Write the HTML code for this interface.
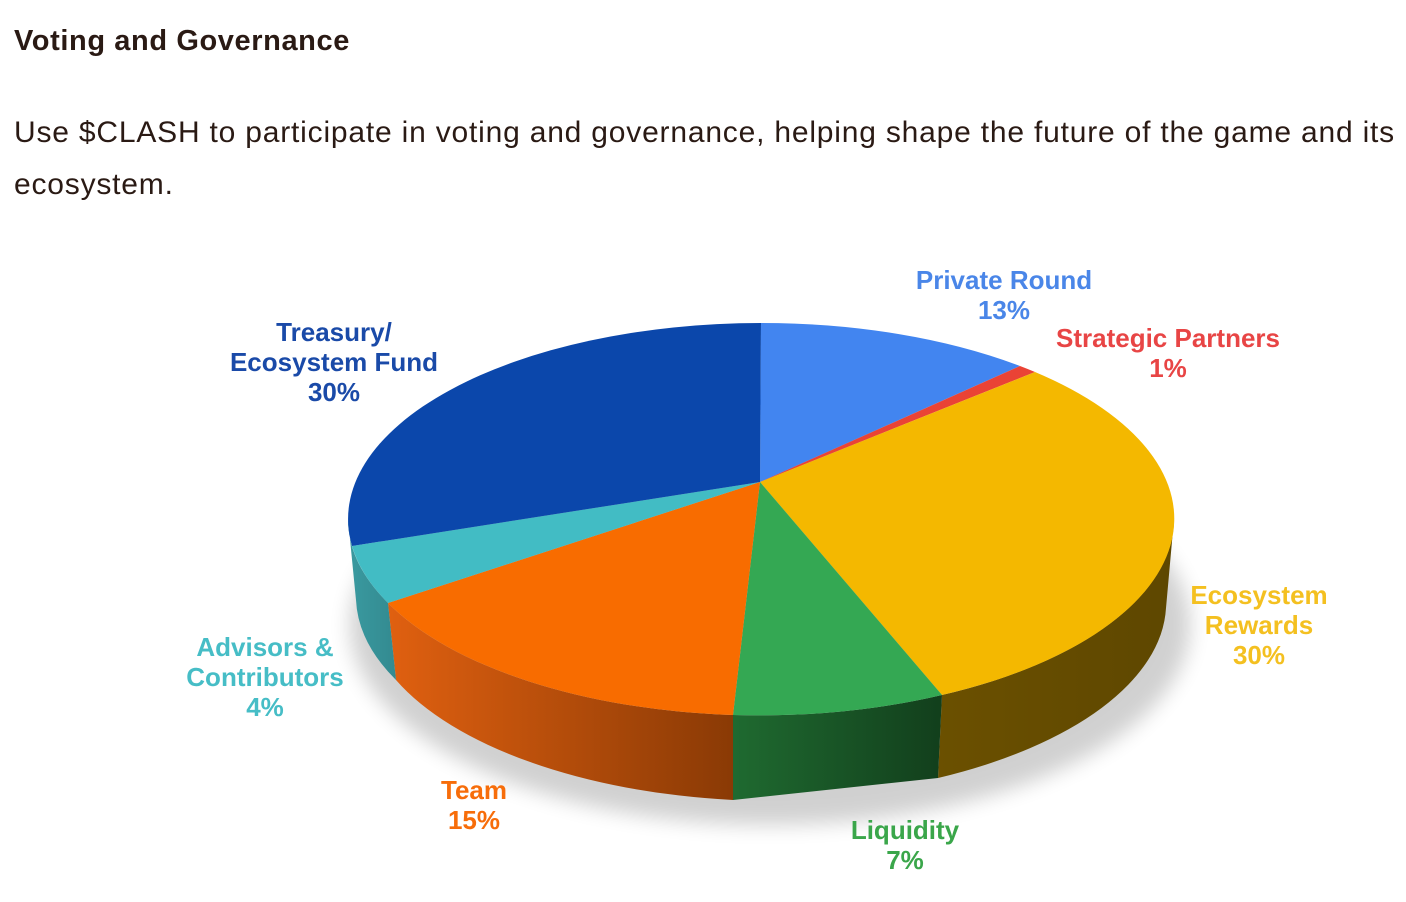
<!DOCTYPE html>
<html><head><meta charset="utf-8"><style>
body{margin:0;width:1406px;height:902px;background:#fff;overflow:hidden;font-family:"Liberation Sans",sans-serif;color:#2a1a14}
h1{position:absolute;left:14px;top:25px;margin:0;font-size:29px;font-weight:bold;letter-spacing:0.6px}
p{position:absolute;left:14px;top:107px;margin:0;font-size:30px;line-height:52px;width:1400px;letter-spacing:0.8px}
svg{position:absolute;left:0;top:0}
.l{font-family:"Liberation Sans",sans-serif;font-weight:bold;font-size:26px;text-anchor:middle}
</style></head><body>
<h1>Voting and Governance</h1>
<p>Use $CLASH to participate in voting and governance, helping shape the future of the game and its ecosystem.</p>
<svg width="1406" height="902">
<defs>
<linearGradient id="gy" x1="0" x2="1"><stop offset="0" stop-color="#6b5000"/><stop offset="1" stop-color="#5e4700"/></linearGradient>
<linearGradient id="gg" x1="0" x2="1"><stop offset="0" stop-color="#1f6a30"/><stop offset="1" stop-color="#123f1c"/></linearGradient>
<linearGradient id="go" x1="0" x2="1"><stop offset="0" stop-color="#e06010"/><stop offset="1" stop-color="#8a3a05"/></linearGradient>
<linearGradient id="gt" x1="0" x2="1"><stop offset="0" stop-color="#3a9aa0"/><stop offset="1" stop-color="#338a90"/></linearGradient>
<filter id="sh"><feGaussianBlur stdDeviation="10"/></filter>
</defs>
<ellipse cx="770" cy="625" rx="420" ry="200" fill="#000" opacity="0.18" filter="url(#sh)"/>
<path d="M1174,519 A413,196 0 0 1 942,695 L938,778 A413,196 0 0 0 1166,608 Z" fill="url(#gy)"/>
<path d="M942,695 A413,196 0 0 1 733,715 L733,800 L938,778 Z" fill="url(#gg)"/>
<path d="M733,715 A413,196 0 0 1 388,603 L396,680 A413,196 0 0 0 733,800 Z" fill="url(#go)"/>
<path d="M388,603 A413,196 0 0 1 348,519 L356,600 A413,196 0 0 0 396,680 Z" fill="url(#gt)"/>
<path d="M760,482 L761,323 A413,196 0 0 1 1020,366 Z" fill="#4285f0"/>
<path d="M760,482 L1020,366 A413,196 0 0 1 1035,372 Z" fill="#ea4335"/>
<path d="M760,482 L1035,372 A413,196 0 0 1 942,695 Z" fill="#f4b800"/>
<path d="M760,482 L942,695 A413,196 0 0 1 733,715 Z" fill="#34a853"/>
<path d="M760,482 L733,715 A413,196 0 0 1 388,603 Z" fill="#f86c00"/>
<path d="M760,482 L388,603 A413,196 0 0 1 352,546 Z" fill="#42bcc4"/>
<path d="M760,482 L352,546 A413,196 0 0 1 761,323 Z" fill="#0b47ab"/>
<text class="l" fill="#4a86e8"><tspan x="1004" y="289">Private Round</tspan><tspan x="1004" y="319">13%</tspan></text>
<text class="l" fill="#e84545"><tspan x="1168" y="347">Strategic Partners</tspan><tspan x="1168" y="377">1%</tspan></text>
<text class="l" fill="#f4c020"><tspan x="1259" y="604">Ecosystem</tspan><tspan x="1259" y="634">Rewards</tspan><tspan x="1259" y="664">30%</tspan></text>
<text class="l" fill="#3aa64a"><tspan x="905" y="839">Liquidity</tspan><tspan x="905" y="869">7%</tspan></text>
<text class="l" fill="#f76d0a"><tspan x="474" y="799">Team</tspan><tspan x="474" y="829">15%</tspan></text>
<text class="l" fill="#46bdc6"><tspan x="265" y="656">Advisors &amp;</tspan><tspan x="265" y="686">Contributors</tspan><tspan x="265" y="716">4%</tspan></text>
<text class="l" fill="#1a4aa8"><tspan x="334" y="341">Treasury/</tspan><tspan x="334" y="371">Ecosystem Fund</tspan><tspan x="334" y="401">30%</tspan></text>
</svg>
</body></html>
